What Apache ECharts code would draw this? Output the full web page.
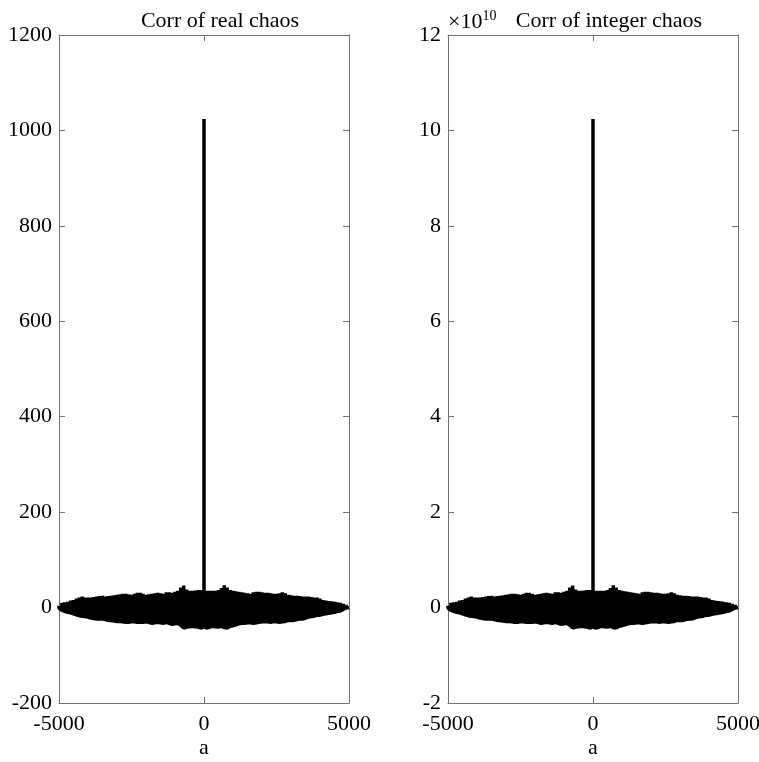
<!DOCTYPE html>
<html>
<head>
<meta charset="utf-8">
<script src="https://cdn.jsdelivr.net/npm/echarts@6/dist/echarts.min.js"></script>
<style>
html,body{margin:0;padding:0;background:#fff;}
#chart{width:759px;height:762px;}
</style>
</head>
<body>
<div id="chart"></div>
<script>
// Lag bins (step 100) of the correlation; for each bin the upper and lower edge of the dense band
const lagBins = (function(){
  const out = [];
  for (let k = -50; k <= 50; k++) out.push(k * 100);
  return out;
})();

const realUpper = [
  4,10,11,12,15,16,19,21,23,21,
  21,21,22,23,24,25,23,24,25,26,
  27,28,29,29,28,27,29,31,31,29,
  27,28,29,30,31,30,29,32,32,31,
  33,35,42,46,38,35,35,36,37,37,
  1024,
  35,35,35,35,37,41,47,42,37,35,
  34,33,32,31,30,29,32,33,33,32,
  31,31,30,29,29,30,32,30,27,26,
  25,25,24,23,23,23,22,21,21,19,
  16,15,14,13,12,11,10,8,6,0
];
const realLower = [
  -1,-6,-8,-10,-11,-13,-15,-17,-18,-19,
  -20,-22,-23,-24,-24,-24,-25,-27,-27,-28,
  -29,-29,-30,-31,-31,-29,-30,-31,-31,-31,
  -30,-31,-33,-32,-31,-32,-33,-31,-33,-35,
  -34,-33,-37,-43,-41,-40,-39,-40,-41,-43,
  -40,
  -43,-41,-39,-40,-41,-39,-42,-43,-39,-38,
  -36,-34,-33,-33,-32,-32,-33,-32,-31,-30,
  -29,-30,-31,-29,-30,-31,-30,-29,-27,-27,
  -27,-25,-24,-24,-22,-20,-19,-18,-16,-16,
  -14,-13,-12,-11,-10,-8,-7,-4,-1,0
];

// integer chaos correlation, in units of 10^10
const intUpperE10 = [
  0.04,0.1,0.11,0.12,0.15,0.16,0.19,0.21,0.23,0.21,
  0.21,0.21,0.22,0.23,0.24,0.25,0.23,0.24,0.25,0.26,
  0.27,0.28,0.29,0.29,0.28,0.27,0.29,0.31,0.31,0.29,
  0.27,0.28,0.29,0.3,0.31,0.3,0.29,0.32,0.32,0.31,
  0.33,0.35,0.42,0.46,0.38,0.35,0.35,0.36,0.37,0.37,
  10.24,
  0.35,0.35,0.35,0.35,0.37,0.41,0.47,0.42,0.37,0.35,
  0.34,0.33,0.32,0.31,0.3,0.29,0.32,0.33,0.33,0.32,
  0.31,0.31,0.3,0.29,0.29,0.3,0.32,0.3,0.27,0.26,
  0.25,0.25,0.24,0.23,0.23,0.23,0.22,0.21,0.21,0.19,
  0.16,0.15,0.14,0.13,0.12,0.11,0.1,0.08,0.06,0
];
const intLowerE10 = [
  -0.01,-0.06,-0.08,-0.1,-0.11,-0.13,-0.15,-0.17,-0.18,-0.19,
  -0.2,-0.22,-0.23,-0.24,-0.24,-0.24,-0.25,-0.27,-0.27,-0.28,
  -0.29,-0.29,-0.3,-0.31,-0.31,-0.29,-0.3,-0.31,-0.31,-0.31,
  -0.3,-0.31,-0.33,-0.32,-0.31,-0.32,-0.33,-0.31,-0.33,-0.35,
  -0.34,-0.33,-0.37,-0.43,-0.41,-0.4,-0.39,-0.4,-0.41,-0.43,
  -0.4,
  -0.43,-0.41,-0.39,-0.4,-0.41,-0.39,-0.42,-0.43,-0.39,-0.38,
  -0.36,-0.34,-0.33,-0.33,-0.32,-0.32,-0.33,-0.32,-0.31,-0.3,
  -0.29,-0.3,-0.31,-0.29,-0.3,-0.31,-0.3,-0.29,-0.27,-0.27,
  -0.27,-0.25,-0.24,-0.24,-0.22,-0.2,-0.19,-0.18,-0.16,-0.16,
  -0.14,-0.13,-0.12,-0.11,-0.1,-0.08,-0.07,-0.04,-0.01,0
];

const xTicks = {min: -5000, max: 5000, interval: 5000};
const yReal = {min: -200, max: 1200, interval: 200};
const yInt = {min: -2, max: 12, interval: 2};
const titles = ['Corr of real chaos', 'Corr of integer chaos'];
const xName = 'a';

const FONT = "'Liberation Serif','Times New Roman',serif";
const AXC = '#707070';
const FS = 22;

// dense oscillating trace: at each lag bin, the line swings from the lower edge to the upper edge and back
function bandPath(xs, lo, up){
  const out = [];
  xs.forEach((x, i) => { out.push([x, lo[i]], [x, up[i]], [x, lo[i]]); });
  return out;
}
const plainNum = v => String(v);

function xAx(grid, pos, labels){
  return {
    type: 'value', gridIndex: grid, position: pos,
    min: xTicks.min, max: xTicks.max, interval: xTicks.interval,
    axisLine: {show: true, onZero: false, lineStyle: {color: AXC, width: 1}},
    axisTick: {show: true, inside: true, length: 6, lineStyle: {color: AXC}},
    axisLabel: {show: labels, color: '#000', fontFamily: FONT, fontSize: FS, margin: 10, formatter: plainNum},
    splitLine: {show: false}
  };
}
function yAx(grid, pos, labels, rng){
  return {
    type: 'value', gridIndex: grid, position: pos,
    min: rng.min, max: rng.max, interval: rng.interval,
    axisLine: {show: true, onZero: false, lineStyle: {color: AXC, width: 1}},
    axisTick: {show: true, inside: true, length: 6, lineStyle: {color: AXC}},
    axisLabel: {show: labels, color: '#000', fontFamily: FONT, fontSize: FS, margin: 7, formatter: plainNum},
    splitLine: {show: false}
  };
}

const chart = echarts.init(document.getElementById('chart'), null, {renderer: 'canvas'});
const option = {
  animation: false,
  backgroundColor: '#fff',
  grid: [
    {left: 59, top: 35, width: 290, height: 668, containLabel: false, outerBoundsMode: 'none'},
    {left: 448, top: 35, width: 290, height: 668, containLabel: false, outerBoundsMode: 'none'}
  ],
  xAxis: [xAx(0, 'bottom', true), xAx(0, 'top', false), xAx(1, 'bottom', true), xAx(1, 'top', false)],
  yAxis: [yAx(0, 'left', true, yReal), yAx(0, 'right', false, yReal), yAx(1, 'left', true, yInt), yAx(1, 'right', false, yInt)],
  series: [
    {type: 'line', xAxisIndex: 0, yAxisIndex: 0, data: bandPath(lagBins, realLower, realUpper), symbol: 'none',
     lineStyle: {color: '#000', width: 3.5}},
    {type: 'line', xAxisIndex: 2, yAxisIndex: 2, data: bandPath(lagBins, intLowerE10, intUpperE10), symbol: 'none',
     lineStyle: {color: '#000', width: 3.5}}
  ],
  graphic: [
    {type: 'text', x: 220, y: 21, style: {text: titles[0], fill: '#000', font: FS + 'px ' + FONT, align: 'center', verticalAlign: 'middle'}},
    {type: 'text', x: 609, y: 21, style: {text: titles[1], fill: '#000', font: FS + 'px ' + FONT, align: 'center', verticalAlign: 'middle'}},
    {type: 'text', x: 448, y: 21, style: {
      text: '{a|×10}{b|10}', verticalAlign: 'middle', align: 'left',
      rich: {
        a: {fontFamily: FONT, fontSize: FS, fill: '#000', color: '#000', verticalAlign: 'bottom', lineHeight: 24},
        b: {fontFamily: FONT, fontSize: 14, fill: '#000', color: '#000', verticalAlign: 'top', lineHeight: 24, padding: [0,0,10,0]}
      }
    }},
    {type: 'text', x: 204, y: 748, style: {text: xName, fill: '#000', font: FS + 'px ' + FONT, align: 'center', verticalAlign: 'middle'}},
    {type: 'text', x: 593, y: 748, style: {text: xName, fill: '#000', font: FS + 'px ' + FONT, align: 'center', verticalAlign: 'middle'}}
  ]
};
chart.setOption(option);
</script>
</body>
</html>
